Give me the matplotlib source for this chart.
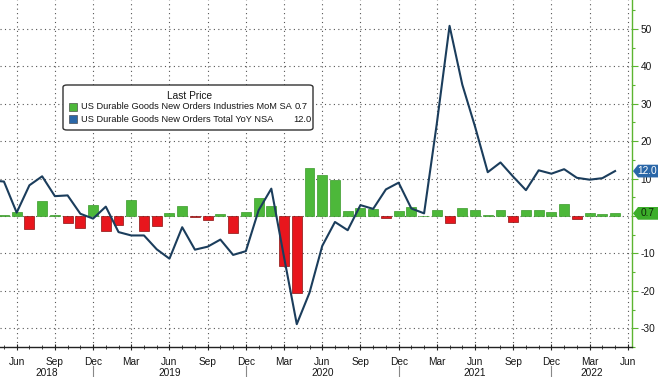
import matplotlib
matplotlib.use('Agg')
import matplotlib.pyplot as plt
import matplotlib.transforms as mtransforms
from matplotlib.patches import FancyBboxPatch, Polygon, Rectangle
import pandas as pd

# ---------------- data ----------------
bar_start = '2018-05'
mom_values = [0.2, 1.1, -3.4, 4.0, 0.3, -2.0, -3.3, 2.9, -3.9, -2.4, 4.4, -3.9, -2.8,
              0.8, 2.6, -0.3, -1.1, 0.4, -4.5, 1.0, 4.7, 2.6, -13.4, -20.5, 12.7,
              10.9, 9.7, 1.3, 2.0, 1.9, -0.6, 1.3, 2.4, 0.1, 1.7, -2.0, 2.0, 1.7,
              0.3, 1.5, -1.5, 1.5, 1.5, 1.0, 3.1, -0.7, 0.7, 0.4, 0.7]
line_start = '2018-04'
yoy_values = [9.5, 9.2, 0.9, 8.2, 10.6, 5.3, 5.5, 0.6, -0.7, 2.5, -4.3, -5.2, -5.2,
              -8.9, -11.4, -3.0, -9.0, -8.2, -6.3, -10.4, -9.4, 1.5, 7.3, -11.0,
              -28.9, -20.5, -8.0, -1.6, -3.8, 2.9, 1.9, 7.1, 8.9, 2.0, 0.7, 24.7,
              50.8, 35.1, 23.9, 11.7, 14.3, 10.5, 6.9, 12.2, 11.3, 12.5, 10.2, 9.7,
              10.1, 12.0]
mom_label = 'US Durable Goods New Orders Industries MoM SA'
yoy_label = 'US Durable Goods New Orders Total YoY NSA'
mom_last = '0.7'
yoy_last = '12.0'
legend_title = 'Last Price'
y_ticks = [-30, -20, -10, 0, 10, 20, 30, 40, 50]
axis_start = '2018-06'
axis_end = '2022-06'

# ---------------- helpers ----------------
def midx(p):
    return (p.year - 2018) * 12 + (p.month - 6)

bar_months = pd.period_range(bar_start, periods=len(mom_values), freq='M')
line_months = pd.period_range(line_start, periods=len(yoy_values), freq='M')
bar_x = [midx(p) for p in bar_months]
line_x = [midx(p) for p in line_months]

W, H = 658, 377
fig = plt.figure(figsize=(W / 100, H / 100), dpi=100)
fig.patch.set_facecolor('white')
ax = fig.add_axes([0, 30 / H, 632 / W, 347 / H])

FONT = ['Liberation Sans', 'DejaVu Sans']
FS = 7.3
LFS = 6.7
TXT = '#161616'
GREEN = '#4db83a'
RED = '#e8161d'
NAVY = '#1b3d5c'
AXG = '#5cb531'

xmin, xmax = -1.31, 48.33
ax.set_xlim(xmin, xmax)
ax.set_ylim(-34.8, 57.7)

# grid
ax.set_yticks(y_ticks)
ax.set_yticklabels(['' if v == 0 else str(v) for v in y_ticks])
ax.set_yticks([v + 5 for v in y_ticks] + [-35 + 0.0001], minor=True)
all_months = pd.period_range(axis_start, axis_end, freq='M')
q_months = [p for p in all_months if p.month in (3, 6, 9, 12)]
ax.set_xticks([midx(p) for p in q_months])
ax.set_xticklabels([p.strftime('%b') for p in q_months])
ax.set_xticks([midx(p) for p in pd.period_range('2018-05', axis_end, freq='M')], minor=True)
ax.grid(True, which='major', axis='both', linestyle=(0, (1, 3)), color='#555555', lw=0.8, zorder=0)

# bars
colors = [GREEN if v >= 0 else RED for v in mom_values]
edges = ['#3a9a2a' if v >= 0 else '#8a1010' for v in mom_values]
ax.bar(bar_x, mom_values, width=0.78, color=colors, edgecolor=edges, linewidth=0.5, zorder=2)

# line
ax.plot(line_x, yoy_values, color=NAVY, lw=1.5, zorder=3)

# spines / ticks
for s in ['left', 'top']:
    ax.spines[s].set_visible(False)
ax.spines['right'].set_color(AXG)
ax.spines['right'].set_linewidth(1.0)
ax.spines['bottom'].set_color('#222222')
ax.spines['bottom'].set_linewidth(1.0)
ax.yaxis.tick_right()
ax.tick_params(axis='y', which='major', colors=AXG, length=4, width=0.8, labelcolor=TXT,
               labelsize=FS, pad=2)
ax.tick_params(axis='y', which='minor', colors=AXG, length=2.5, width=0.8)
ax.tick_params(axis='x', which='major', direction='inout', length=4, width=0.8,
               colors='#222222', labelcolor=TXT, labelsize=FS, pad=5)
ax.tick_params(axis='x', which='minor', direction='inout', length=3, width=0.6, colors='#222222')
for lab in ax.get_yticklabels() + ax.get_xticklabels():
    lab.set_family(FONT)

# year labels and separators
dec_x = [midx(p) for p in all_months if p.month == 12]
bounds = [xmin] + dec_x + [xmax]
years = sorted(set(p.year for p in all_months))
btr = mtransforms.blended_transform_factory(ax.transData, ax.transAxes)
for i, yr in enumerate(years):
    cx = (bounds[i] + bounds[i + 1]) / 2
    ax.text(cx, -(372.5 - 347) / 347, str(yr), transform=btr, ha='center', va='center_baseline',
            fontsize=FS, family=FONT, color=TXT, clip_on=False)
for dx in dec_x:
    ax.plot([dx, dx], [-(366 - 347) / 347, -(377 - 347) / 347], transform=btr,
            color='#888888', lw=0.8, clip_on=False)

# price tags on right axis
ttr = mtransforms.blended_transform_factory(fig.transFigure, ax.transData)
def tag(val, txt, fc, tc):
    h = 1.7
    pts = [(633 / W, val), (638 / W, val + h), (1.0, val + h), (1.0, val - h), (638 / W, val - h)]
    ax.add_patch(Polygon(pts, closed=True, transform=ttr, facecolor=fc, edgecolor='none',
                         clip_on=False, zorder=5))
    ax.text(647.5 / W, val, txt, transform=ttr, ha='center', va='center', fontsize=FS,
            family=FONT, color=tc, clip_on=False, zorder=6)
tag(yoy_values[-1], yoy_last, '#2a67a8', 'white')
tag(mom_values[-1], mom_last, '#3cae2a', '#0d2a08')

# legend box (figure pixel coordinates)
def fx(x):
    return x / W
def fy(y):
    return 1 - y / H
box = FancyBboxPatch((fx(63), fy(130)), fx(313) - fx(63), fy(85) - fy(130),
                     boxstyle='round,pad=0,rounding_size=0.006', transform=fig.transFigure,
                     facecolor='white', edgecolor='#333333', lw=1.0, zorder=10)
fig.patches.append(box)
fig.text(fx(190), fy(96), legend_title, ha='center', va='center', fontsize=FS, family=FONT,
         color=TXT, zorder=11)
for yy, col, lab, val, vx in [(107, GREEN, mom_label, mom_last, 308),
                              (119, '#2a67a8', yoy_label, yoy_last, 311)]:
    fig.patches.append(Rectangle((fx(69), fy(yy + 4)), fx(77) - fx(69), fy(yy - 4) - fy(yy + 4),
                                 transform=fig.transFigure, facecolor=col, edgecolor='#333333',
                                 lw=0.4, zorder=11))
    fig.text(fx(81), fy(yy), lab, ha='left', va='center', fontsize=LFS, family=FONT,
             color=TXT, zorder=11)
    fig.text(fx(vx), fy(yy), val, ha='right', va='center', fontsize=LFS, family=FONT,
             color=TXT, zorder=11)

fig.savefig('out.png', dpi=100, facecolor='white')
